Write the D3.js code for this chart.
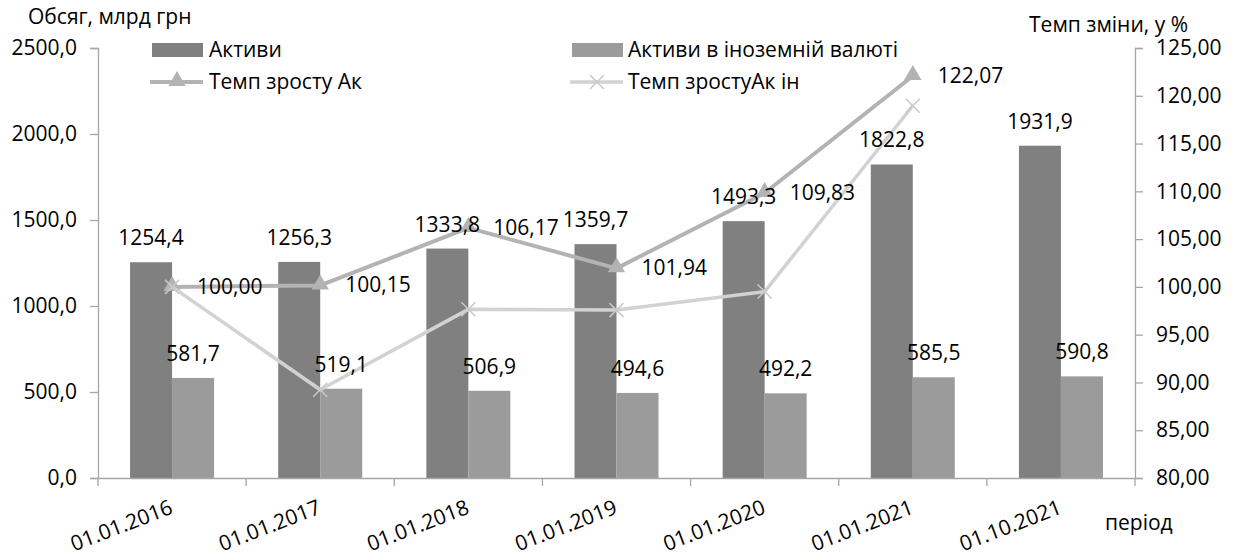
<!DOCTYPE html>
<html>
<head>
<meta charset="utf-8">
<script src="https://cdn.jsdelivr.net/npm/d3@7"></script>
<style>
  html, body { margin: 0; padding: 0; background: #fff; }
  svg { display: block; }
  text { font-family: "Open Sans", "Noto Sans", sans-serif; fill: #000; }
</style>
</head>
<body>
<svg id="chart" width="1238" height="557"></svg>
<script>
const categories = ["01.01.2016", "01.01.2017", "01.01.2018", "01.01.2019", "01.01.2020", "01.01.2021", "01.10.2021"];
const assets = [1254.4, 1256.3, 1333.8, 1359.7, 1493.3, 1822.8, 1931.9];
const fxAssets = [581.7, 519.1, 506.9, 494.6, 492.2, 585.5, 590.8];
const growthAssets = [100.00, 100.15, 106.17, 101.94, 109.83, 122.07];
const growthFx = [100.00, 89.24, 97.65, 97.57, 99.51, 118.96];
const leftTicks = [0, 500, 1000, 1500, 2000, 2500];
const rightTicks = [80, 85, 90, 95, 100, 105, 110, 115, 120, 125];
const seriesNames = ["Активи", "Активи в іноземній валюті", "Темп зросту Ак", "Темп зростуАк ін"];
const leftTitle = "Обсяг, млрд грн";
const rightTitle = "Темп зміни, у %";
const xTitle = "період";

const FS = 21;
const fmt1 = d => d3.format(".1f")(d).replace(".", ",");
const fmt2 = d => d3.format(".2f")(d).replace(".", ",");

const svg = d3.select("#chart");
const L = 98, R = 1135, T = 48, B = 478;

const x = d3.scaleBand().domain(categories).range([L, R]).paddingInner(0).paddingOuter(0);
const yL = d3.scaleLinear().domain([0, 2500]).range([B, T]);
const yR = d3.scaleLinear().domain([80, 125]).range([B, T]);

const axisColor = "#a6a6a6";
const darkBar = "#808080", lightBar = "#9b9b9b";
const lineA = "#b3b3b3", lineB = "#d2d2d2";

const barW = 42;
const bx = (i, k) => x(categories[i]) + x.bandwidth() / 2 - barW + k * barW;

// bars
svg.append("g").selectAll("rect").data(assets).join("rect")
  .attr("x", (d, i) => bx(i, 0)).attr("y", d => yL(d))
  .attr("width", barW).attr("height", d => B - yL(d)).attr("fill", darkBar);
svg.append("g").selectAll("rect").data(fxAssets).join("rect")
  .attr("x", (d, i) => bx(i, 1)).attr("y", d => yL(d))
  .attr("width", barW).attr("height", d => B - yL(d)).attr("fill", lightBar);

// axes
const axL = svg.append("g").attr("transform", `translate(${L},0)`)
  .call(d3.axisLeft(yL).tickValues(leftTicks).tickSize(8).tickPadding(13).tickFormat(fmt1));
const axR = svg.append("g").attr("transform", `translate(${R},0)`)
  .call(d3.axisRight(yR).tickValues(rightTicks).tickSize(8).tickPadding(13).tickFormat(fmt2));
const axB = svg.append("g").attr("transform", `translate(0,${B})`)
  .call(d3.axisBottom(x).tickSize(0).tickFormat(""));
svg.append("g").selectAll("line").data(d3.range(categories.length + 1)).join("line")
  .attr("x1", i => L + i * x.bandwidth()).attr("x2", i => L + i * x.bandwidth())
  .attr("y1", B).attr("y2", B + 8).attr("stroke", axisColor).attr("stroke-width", 1.3);

[axL, axR, axB].forEach(a => {
  a.selectAll("path.domain").attr("stroke", axisColor).attr("stroke-width", 1.3);
  a.selectAll(".tick line").attr("stroke", axisColor).attr("stroke-width", 1.3);
  a.selectAll(".tick text").attr("font-size", FS).attr("font-family", "Open Sans").attr("fill", "#000");
});

// x labels rotated
svg.append("g").selectAll("text").data(categories).join("text")
  .attr("transform", d => `translate(${x(d) + x.bandwidth() / 2 + 2},${B + 35}) rotate(-21)`)
  .attr("text-anchor", "end").attr("font-size", FS).text(d => d);

// lines
const xc = i => x(categories[i]) + x.bandwidth() / 2;
const lineGen = yScale => d3.line().x((d, i) => xc(i)).y(d => yScale(d));
svg.append("path").datum(growthAssets).attr("d", lineGen(yR))
  .attr("fill", "none").attr("stroke", lineA).attr("stroke-width", 4).attr("stroke-linejoin", "round");
const tri = d3.symbol().type(d3.symbolTriangle).size(130);
svg.append("g").selectAll("path").data(growthAssets).join("path")
  .attr("d", tri).attr("transform", (d, i) => `translate(${xc(i)},${yR(d) - 1})`).attr("fill", lineA);

svg.append("path").datum(growthFx).attr("d", lineGen(yR))
  .attr("fill", "none").attr("stroke", lineB).attr("stroke-width", 3.5).attr("stroke-linejoin", "round");
const crs = (g, cx, cy, s) => {
  g.append("path").attr("d", `M${cx - s},${cy - s}L${cx + s},${cy + s}M${cx - s},${cy + s}L${cx + s},${cy - s}`)
    .attr("stroke", "#c8c8c8").attr("stroke-width", 1.5).attr("fill", "none");
};
const gx = svg.append("g");
growthFx.forEach((d, i) => crs(gx, xc(i), yR(d), 7));

// bar labels
svg.append("g").selectAll("text").data(assets).join("text")
  .attr("x", (d, i) => bx(i, 0) + barW / 2).attr("y", d => yL(d) - 17)
  .attr("text-anchor", "middle").attr("font-size", FS).text(fmt1);
svg.append("g").selectAll("text").data(fxAssets).join("text")
  .attr("x", (d, i) => bx(i, 1) + barW / 2).attr("y", d => yL(d) - 17)
  .attr("text-anchor", "middle").attr("font-size", FS).text(fmt1);
// line labels
svg.append("g").selectAll("text").data(growthAssets).join("text")
  .attr("x", (d, i) => xc(i) + 25).attr("y", d => yR(d) + 7)
  .attr("font-size", FS).text(fmt2);

// titles
svg.append("text").attr("x", 28).attr("y", 24).attr("font-size", FS).text(leftTitle);
svg.append("text").attr("x", 1188).attr("y", 32).attr("text-anchor", "end").attr("font-size", FS).text(rightTitle);
svg.append("text").attr("x", 1105).attr("y", 530).attr("font-size", FS).text(xTitle);

// legend
const lg = svg.append("g");
lg.append("rect").attr("x", 152).attr("y", 43).attr("width", 51).attr("height", 14).attr("fill", darkBar);
lg.append("text").attr("x", 209).attr("y", 57).attr("font-size", FS).text(seriesNames[0]);
lg.append("rect").attr("x", 572).attr("y", 43).attr("width", 51).attr("height", 14).attr("fill", lightBar);
lg.append("text").attr("x", 628).attr("y", 57).attr("font-size", FS).text(seriesNames[1]);
lg.append("line").attr("x1", 150).attr("x2", 203).attr("y1", 82).attr("y2", 82).attr("stroke", lineA).attr("stroke-width", 4);
lg.append("path").attr("d", tri).attr("transform", "translate(177,81)").attr("fill", lineA);
lg.append("text").attr("x", 209).attr("y", 89).attr("font-size", FS).text(seriesNames[2]);
lg.append("line").attr("x1", 570).attr("x2", 623).attr("y1", 82).attr("y2", 82).attr("stroke", lineB).attr("stroke-width", 3.5);
crs(lg, 597, 82, 7);
lg.append("text").attr("x", 628).attr("y", 89).attr("font-size", FS).text(seriesNames[3]);
</script>
</body>
</html>
